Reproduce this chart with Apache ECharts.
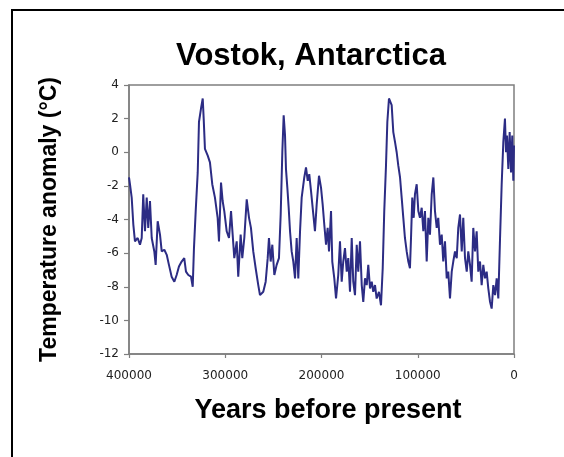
<!DOCTYPE html>
<html>
<head>
<meta charset="utf-8">
<script src="https://cdn.jsdelivr.net/npm/echarts@6/dist/echarts.min.js"></script>
<style>html,body{margin:0;padding:0;background:#fff;}#c{width:564px;height:457px;}</style>
</head>
<body>
<div id="c"></div>
<script>
var years = [
400000,399000,397200,395500,393800,391000,388600,386800,385200,383400,
381600,380000,378200,376400,373700,372300,370200,367800,366000,363300,
360800,358500,355700,352900,350500,348100,345300,342600,340800,338400,
335600,333800,332500,330700,328600,327300,325200,323400,322400,321100,
318200,315900,313500,310700,307900,306500,304400,302700,301000,298500,
296100,294000,292300,290600,288100,286500,284000,282300,280200,277700,
275300,273300,270900,268400,265700,263900,260500,258000,255900,254600,
252800,251100,249000,246600,244200,242400,240700,239300,237900,236900,
235500,234100,232700,231000,229300,227500,225800,224100,222300,220600,
217900,216100,214300,212700,210900,208500,206800,205000,202600,200500,
198800,197100,195300,193600,192200,190100,188800,186700,184900,182600,
180800,179000,177400,175600,173800,172200,170400,168600,167000,165200,
163400,161800,160000,158200,156600,154800,153000,151400,149600,147800,
146200,144400,142700,140300,138200,136400,134800,133000,131600,129900,
127100,125400,123600,121900,120200,118400,116700,115000,113300,111500,
109800,108100,107000,105700,104200,102900,101100,99400,97700,95900,
94200,92500,90700,89000,87300,85500,83800,82100,80300,78700,
76900,75100,73500,71700,69900,68300,66500,64700,63100,61300,
59500,57900,56100,54300,52700,50900,49100,47500,45700,44000,
42300,40500,38800,37100,35300,33600,31900,30100,28400,26700,
24900,23200,21500,19700,18000,16300,14500,12800,11100,9400,
8300,7300,5900,4500,3100,1800,700,0
];
var temps = [
-1.5,-1.9,-2.7,-4.3,-5.3,-5.1,-5.5,-5.1,-2.5,-4.7,
-2.7,-4.5,-2.9,-5.1,-5.9,-6.7,-4.1,-4.9,-5.9,-5.8,
-6.1,-6.7,-7.4,-7.7,-7.3,-6.8,-6.5,-6.3,-7.1,-7.3,
-7.4,-8.0,-5.7,-3.5,-1.2,1.8,2.6,3.2,2.0,0.2,
-0.2,-0.6,-1.9,-2.7,-3.9,-5.3,-1.8,-2.9,-3.5,-4.7,
-5.1,-3.5,-4.9,-6.3,-5.3,-7.4,-4.9,-6.3,-5.1,-2.8,
-3.9,-4.5,-5.9,-6.9,-7.9,-8.5,-8.3,-7.7,-6.3,-5.1,
-6.5,-5.5,-7.3,-6.7,-6.3,-3.7,0.0,2.2,1.0,-1.0,
-2.1,-3.3,-4.7,-5.9,-6.5,-7.5,-5.1,-7.5,-4.7,-2.7,
-1.5,-0.9,-1.7,-1.3,-2.3,-3.7,-4.7,-3.1,-1.4,-2.1,
-3.1,-4.3,-5.5,-4.5,-5.9,-3.5,-6.5,-7.5,-8.7,-7.3,
-5.3,-7.7,-6.5,-5.7,-7.1,-6.3,-8.3,-5.1,-7.7,-8.5,
-5.5,-7.1,-5.3,-7.9,-8.9,-7.5,-7.9,-6.7,-8.1,-7.7,
-8.3,-7.9,-8.7,-8.3,-9.1,-6.9,-3.5,-0.8,1.8,3.2,
2.8,1.2,0.6,0.0,-0.8,-1.5,-2.7,-3.9,-5.1,-5.9,
-6.5,-6.9,-5.1,-2.7,-3.9,-2.5,-1.9,-3.5,-3.9,-3.3,
-4.7,-3.5,-6.5,-3.9,-4.9,-2.5,-1.5,-3.5,-4.5,-3.9,
-5.5,-4.9,-6.5,-5.3,-7.5,-7.1,-8.7,-7.1,-6.5,-5.9,
-6.3,-4.5,-3.7,-5.9,-3.9,-6.3,-7.1,-5.9,-6.7,-7.7,
-4.5,-5.9,-4.7,-7.1,-6.5,-7.9,-6.7,-7.5,-7.1,-8.1,
-8.9,-9.3,-7.9,-8.5,-7.5,-8.7,-5.1,-1.9,0.6,2.0,
0.0,1.0,-1.0,1.2,-1.2,1.0,-1.7,0.4
];
var xTicks = [400000, 300000, 200000, 100000, 0];
var yTicks = [4, 2, 0, -2, -4, -6, -8, -10, -12];
var titleText = 'Vostok, Antarctica';
var xName = 'Years before present';
var yName = 'Temperature anomaly (\u00b0C)';

var data = years.map(function (y, i) { return [y, temps[i]]; });

var chart = echarts.init(document.getElementById('c'), null, {renderer: 'canvas'});
var axisGray = '#7f7f7f';
chart.setOption({
  animation: false,
  backgroundColor: '#fff',
  title: {
    text: titleText,
    left: 306,
    textAlign: 'center',
    top: 36,
    textStyle: {fontFamily: 'Liberation Sans', fontWeight: 'bold', fontSize: 31, color: '#000'}
  },
  graphic: [{
    type: 'rect',
    shape: {x: 12, y: 10, width: 640, height: 540},
    style: {fill: 'none', stroke: '#000', lineWidth: 2},
    silent: true
  }],
  grid: {
    left: 129, right: 50, top: 85, bottom: 103,
    show: true, borderColor: axisGray, borderWidth: 1.5, backgroundColor: 'transparent'
  },
  xAxis: {
    type: 'value',
    inverse: true,
    min: 0, max: 400000, interval: 100000,
    name: xName,
    nameLocation: 'middle',
    nameGap: 43,
    nameTextStyle: {fontFamily: 'Liberation Sans', fontWeight: 'bold', fontSize: 27, color: '#000', padding: [0, 0, 0, 13]},
    axisLine: {show: true, onZero: false, lineStyle: {color: axisGray, width: 1.5}},
    axisTick: {show: true, length: 4, lineStyle: {color: axisGray, width: 1.2}},
    axisLabel: {
      margin: 16,
      fontFamily: 'DejaVu Sans', fontSize: 12, color: '#222',
      formatter: function (v) { return xTicks.indexOf(v) >= 0 ? String(v) : ''; }
    },
    splitLine: {show: false}
  },
  yAxis: {
    type: 'value',
    min: -12, max: 4, interval: 2,
    name: yName,
    nameLocation: 'middle',
    nameRotate: 90,
    nameGap: 68,
    nameTextStyle: {fontFamily: 'Liberation Sans', fontWeight: 'bold', fontSize: 23, color: '#000'},
    axisLine: {show: true, onZero: false, lineStyle: {color: axisGray, width: 1.5}},
    axisTick: {show: true, length: 5, lineStyle: {color: axisGray, width: 1.2}},
    axisLabel: {
      margin: 10,
      fontFamily: 'DejaVu Sans', fontSize: 12, color: '#222',
      formatter: function (v) { return yTicks.indexOf(v) >= 0 ? String(v) : ''; }
    },
    splitLine: {show: false}
  },
  series: [{
    type: 'line',
    data: data,
    showSymbol: false,
    lineStyle: {color: '#2c2c84', width: 2},
    emphasis: {disabled: true}
  }]
});
</script>
</body>
</html>
